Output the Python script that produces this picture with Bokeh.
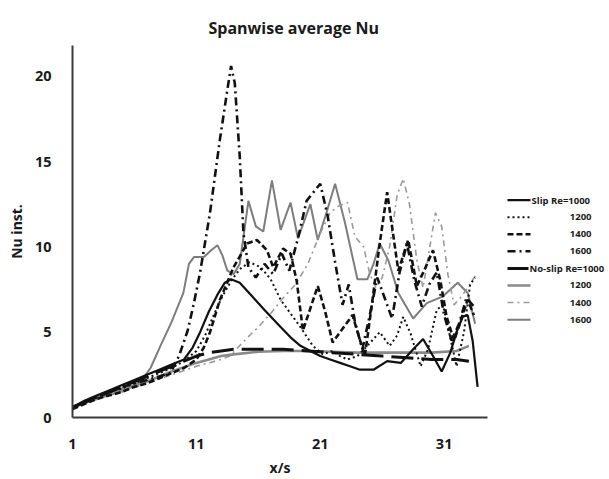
from bokeh.plotting import figure
from bokeh.layouts import row
from bokeh.models import Range1d, FixedTicker
from bokeh.core.properties import value
from bokeh.embed import file_html
from bokeh.resources import INLINE

# ---- data: spanwise-averaged instantaneous Nusselt number vs x/s ----
slip_1000_x = [1, 2, 3, 4, 5, 6, 7, 8, 9, 10, 10.7, 11.3, 12, 12.7, 13.3, 13.8, 14.5, 15.5, 16.5, 17.8,
               18.6, 19.4, 20.2, 21, 21.8, 22.6, 23.4, 24.2, 25.3, 26.4, 27.5, 28.5, 29.3, 30.1,
               30.8, 31.5, 32.0, 32.5, 32.9, 33.3, 33.7]
slip_1000_y = [0.6, 1.0, 1.3, 1.6, 1.9, 2.2, 2.5, 2.8, 3.1, 3.4, 4.1, 5.0, 6.2, 7.2, 7.9, 8.1, 7.9, 7.1, 6.3, 5.3,
               4.7, 4.2, 3.9, 3.6, 3.4, 3.2, 3.0, 2.8, 2.8, 3.3, 3.2, 4.0, 4.6, 3.6,
               2.7, 3.8, 5.0, 5.9, 6.0, 4.5, 1.8]

slip_1200_x = [1, 2, 3, 4, 5, 6, 7, 8, 9, 10, 11, 11.7, 12.4, 13.1, 13.8, 14.5, 15.3, 16.2, 17, 17.8,
               18.6, 19.4, 20.4, 21.2, 22.0, 22.6, 23.2, 24.0, 24.8, 25.8, 26.6, 27.2, 27.7, 28.3, 29.1,
               29.7, 30.4, 30.9, 31.4, 32, 32.6, 33.1, 33.5]
slip_1200_y = [0.6, 0.9, 1.2, 1.5, 1.7, 2.0, 2.3, 2.6, 2.9, 3.3, 3.9, 4.8, 6.0, 7.1, 8.0, 8.7, 9.1, 8.8, 8.1, 6.9,
               6.1, 5.3, 4.2, 3.7, 3.9, 3.6, 3.4, 3.6, 4.2, 5.0, 4.2, 4.8, 5.9, 4.9, 3.0,
               4.0, 6.3, 6.6, 5.0, 3.0, 5.0, 7.8, 8.2]

slip_1400_x = [1, 2, 3, 4, 5, 6, 7, 8, 9, 10, 11, 11.6, 12.1, 12.9, 14.0, 15.1, 15.9, 16.7, 17.2, 18.0,
               18.6, 19.1, 19.6, 20.2, 20.8, 21.4, 22.0, 22.8, 23.6, 24.1, 24.6, 25.2, 25.8, 26.4,
               27.3, 28.1, 28.8, 29.5, 30.1, 30.7, 31.2, 31.8, 32.4, 32.9, 33.4]
slip_1400_y = [0.5, 0.8, 1.1, 1.3, 1.5, 1.8, 2.0, 2.3, 2.6, 2.9, 3.4, 4.1, 5.0, 6.9, 8.8, 10.2, 10.4, 9.8, 8.8, 9.9,
               9.6, 8.0, 5.1, 6.4, 7.7, 6.2, 4.4, 5.2, 6.0, 4.8, 3.6, 6.8, 10.2, 13.2,
               8.6, 10.4, 7.7, 8.8, 9.8, 8.0, 5.9, 4.5, 5.8, 6.9, 6.0]

slip_1600_x = [1, 2, 3, 4, 5, 6, 7, 8, 8.9, 9.6, 10.3, 10.8, 11.3, 12.1, 12.9, 13.5, 13.8, 14.1, 14.5, 14.8,
               15.2, 15.8, 16.5, 17.2, 17.9, 18.5, 19.2, 19.9, 21.0, 21.6, 22.2, 22.8, 23.3, 23.8,
               24.4, 25.0, 25.6, 26.2, 26.8, 27.4, 28.0, 28.6, 29.2, 29.8, 30.4, 31.0, 31.6, 32.2,
               32.8, 33.4]
slip_1600_y = [0.6, 0.9, 1.2, 1.5, 1.8, 2.0, 2.2, 2.4, 2.6, 3.6, 5.1, 6.7, 8.5, 12.0, 16.3, 19.2, 20.6, 19.6, 15.3, 10.8,
               8.8, 8.2, 9.0, 8.4, 9.6, 8.6, 10.5, 12.7, 13.7, 11.8, 9.1, 6.6, 7.8, 5.6,
               4.0, 6.0, 8.2, 7.0, 5.8, 8.5, 10.2, 8.0, 6.5, 7.8, 8.5, 6.0, 4.5, 5.5,
               7.0, 6.5]

noslip_1000_x = [1, 3, 5, 7, 8, 9, 10, 11, 12, 13, 14, 15, 16, 18, 20, 22, 24, 26, 28, 30, 32, 33]
noslip_1000_y = [0.6, 1.2, 1.8, 2.4, 2.7, 3.0, 3.3, 3.6, 3.8, 3.9, 4.0, 4.0, 4.0, 4.0, 3.9, 3.8, 3.7, 3.6, 3.5, 3.4,
                 3.4, 3.3]

noslip_1200_x = [1, 3, 5, 7, 9, 11, 12, 13, 14, 16, 18, 20, 22, 24, 26, 28, 30, 32, 33]
noslip_1200_y = [0.6, 1.1, 1.6, 2.1, 2.7, 3.2, 3.4, 3.6, 3.7, 3.85, 3.9, 3.9, 3.85, 3.8, 3.8, 3.8, 3.8, 3.9, 4.2]

noslip_1400_x = [1, 3, 5, 7, 9, 11, 12, 13, 13.7, 15, 16, 17, 18, 19, 20, 21, 21.8, 22.5, 23.2, 23.8,
                 24.5, 25.0, 25.5, 26.0, 26.6, 27.2, 27.7, 28.2, 28.8, 29.3, 29.8, 30.3, 30.8, 31.3,
                 31.8, 32.3, 32.9, 33.5]
noslip_1400_y = [0.6, 1.1, 1.5, 2.0, 2.5, 3.0, 3.2, 3.4, 3.6, 4.6, 5.3, 6.1, 7.0, 7.8, 9.0, 10.8, 12.0, 12.4, 12.6, 10.6,
                 10.0, 8.4, 7.6, 8.2, 10.0, 13.0, 14.0, 12.5, 9.2, 7.6, 9.8, 12.0, 11.2, 8.4,
                 6.6, 7.0, 7.6, 8.3]

noslip_1600_x = [1, 2, 3, 4, 5, 6, 6.5, 7.3, 8.1, 9.0, 9.95, 10.4, 10.8, 11.6, 12.2, 12.7, 13.1, 13.5, 14.0, 14.5,
                 15.2, 15.8, 16.4, 17.1, 17.8, 18.6, 19.2, 20.2, 20.8, 21.5, 22.2, 23.0, 24.0, 24.8,
                 25.3, 25.8, 26.5, 27.3, 28.5, 29.6, 30.9, 32.1, 32.9, 33.5]
noslip_1600_y = [0.6, 0.9, 1.2, 1.4, 1.7, 1.9, 2.1, 2.9, 4.2, 5.6, 7.3, 9.0, 9.4, 9.4, 9.8, 10.1, 9.5, 8.6, 8.4, 9.0,
                 12.7, 11.2, 10.9, 13.9, 11.0, 12.6, 10.5, 12.5, 10.4, 12.0, 13.7, 11.4, 8.1, 8.1,
                 9.0, 10.2, 9.2, 7.3, 5.8, 6.7, 7.1, 7.9, 7.3, 5.5]

legend_labels = ["Slip Re=1000", "1200", "1400", "1600",
                 "No-slip Re=1000", "1200", "1400", "1600"]
x_ticks = [1, 11, 21, 31]
y_ticks = [0, 5, 10, 15, 20]

FONT = "Open Sans"

# line styles, one per series (legend order)
styles = [
    dict(line_color="#111111", line_width=2.2),
    dict(line_color="#111111", line_width=2.0, line_dash="2 3"),
    dict(line_color="#111111", line_width=2.6, line_dash="6 3"),
    dict(line_color="#111111", line_width=2.6, line_dash="8 4 2 4"),
    dict(line_color="#111111", line_width=3.0, line_dash="22 8"),
    dict(line_color="#8a8a8a", line_width=2.6),
    dict(line_color="#9a9a9a", line_width=1.6, line_dash="6 4 2 4"),
    dict(line_color="#7d7d7d", line_width=2.0),
]
series = [
    (slip_1000_x, slip_1000_y), (slip_1200_x, slip_1200_y),
    (slip_1400_x, slip_1400_y), (slip_1600_x, slip_1600_y),
    (noslip_1000_x, noslip_1000_y), (noslip_1200_x, noslip_1200_y),
    (noslip_1400_x, noslip_1400_y), (noslip_1600_x, noslip_1600_y),
]

p = figure(width=495, height=479, output_backend="svg", toolbar_location=None,
           x_range=Range1d(1, 34.5), y_range=Range1d(0, 21.8),
           min_border_left=72, min_border_right=8, min_border_top=45, min_border_bottom=61,
           title="Spanwise average Nu")
p.title.align = "left"
p.title.vertical_align = "top"
p.title.offset = 136
p.title.standoff = 10
p.title.text_font = FONT
p.title.text_font_size = "16px"
p.title.text_font_style = "bold"
p.title.text_color = "#1a1a1a"

p.grid.visible = False
p.outline_line_color = None

p.xaxis.ticker = FixedTicker(ticks=x_ticks)
p.yaxis.ticker = FixedTicker(ticks=y_ticks)
for ax in (p.xaxis[0], p.yaxis[0]):
    ax.axis_line_width = 2
    ax.axis_line_color = "#3a3a3a"
    ax.major_tick_line_color = None
    ax.minor_tick_line_color = None
    ax.major_label_text_font = FONT
    ax.major_label_text_font_style = "bold"
    ax.major_label_text_font_size = "14.5px"
    ax.major_label_text_color = "#1a1a1a"
    ax.axis_label_text_font = FONT
    ax.axis_label_text_font_style = "bold"
    ax.axis_label_text_font_size = "14px"
    ax.axis_label_text_color = "#1a1a1a"
p.xaxis.axis_label = "x/s"
p.yaxis.axis_label = "Nu inst."
p.xaxis.major_label_standoff = 15
p.yaxis.major_label_standoff = 15
p.xaxis.axis_label_standoff = 6
p.yaxis.axis_label_standoff = 6

# grey (no-slip) curves first, black (slip) curves on top
draw_order = [7, 6, 5, 4, 3, 2, 1, 0]
for i in draw_order:
    xs, ys = series[i]
    p.line(xs, ys, **styles[i])

# legend panel drawn on its own canvas in pixel coordinates
leg = figure(width=114, height=479, output_backend="svg", toolbar_location=None,
             x_range=Range1d(0, 114), y_range=Range1d(479, 0),
             min_border=0, x_axis_type=None, y_axis_type=None)
leg.grid.visible = False
leg.outline_line_color = None

row_y0, row_dy = 199, 22
for k, lab in enumerate(legend_labels):
    yk = row_y0 + k * row_dy
    x_end = 35 if k != 4 else 33
    leg.line([12, x_end], [yk, yk], **styles[k])
    long_label = lab.startswith("Slip") or lab.startswith("No-slip")
    leg.text(x=[x_end + 1 if long_label else 96], y=[yk], text=[lab],
             text_font=value(FONT), text_font_style="bold", text_font_size="9.5px",
             text_color="#1a1a1a", text_align="left" if long_label else "right",
             text_baseline="middle")

layout = row(p, leg)
open("out.html", "w").write(file_html(layout, INLINE))
